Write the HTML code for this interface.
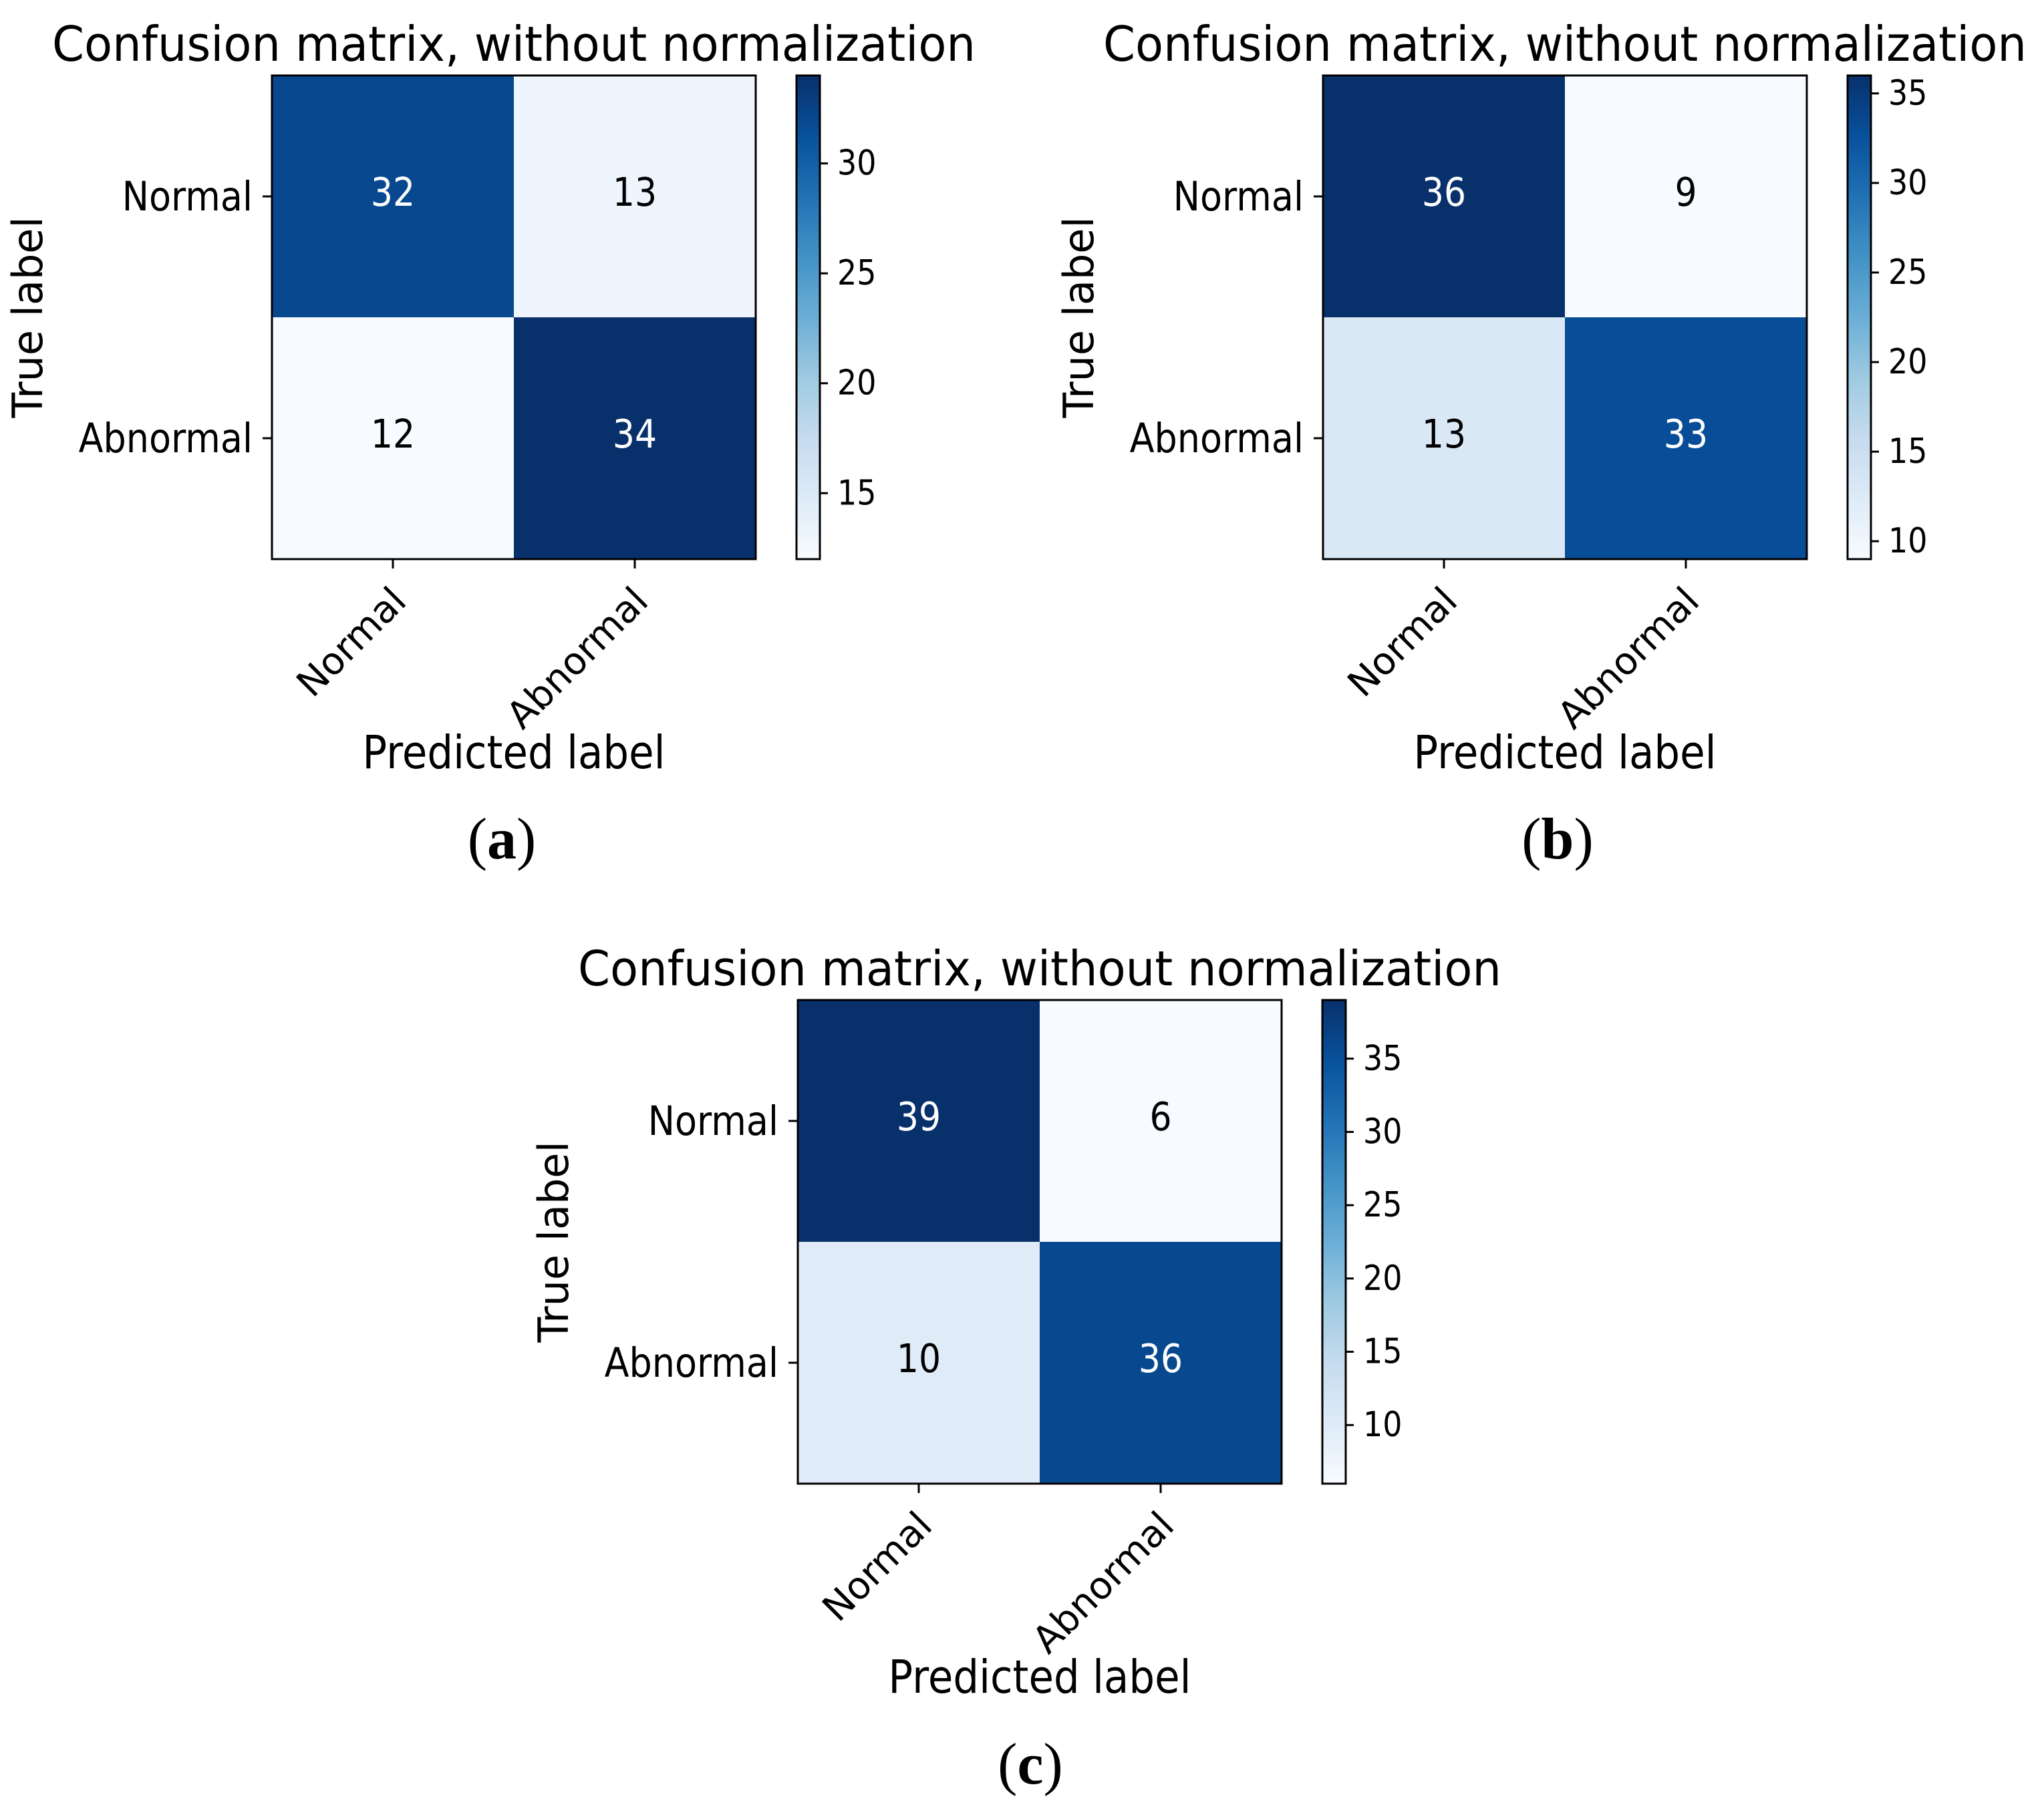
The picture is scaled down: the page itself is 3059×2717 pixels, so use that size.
<!DOCTYPE html>
<html><head><meta charset="utf-8"><style>
html,body{margin:0;padding:0;background:#fff}
svg{display:block}
text{font-family:"DejaVu Sans","Liberation Sans",sans-serif;fill:#000}
.cap{font-family:"Liberation Serif",serif}
</style></head><body>
<svg id="fig" width="3059" height="2717" viewBox="0 0 3059 2717" xmlns="http://www.w3.org/2000/svg"></svg>
<script>
const categories = ["Normal", "Abnormal"];
const matrixA = [[32, 13], [12, 34]];
const matrixB = [[36, 9], [13, 33]];
const matrixC = [[39, 6], [10, 36]];
const colorbarTicks = [5, 10, 15, 20, 25, 30, 35, 40];
const captionLetters = ["a", "b", "c"];
const titleText = "Confusion matrix, without normalization";

const NS = "http://www.w3.org/2000/svg";
const svg = document.getElementById("fig");
const stops = ["#f7fbff","#deebf7","#c6dbef","#9ecae1","#6baed6","#4292c6","#2171b5","#08519c","#08306b"];
const K = 1.13; // vertical glyph stretch seen in reference
function hex(h){return [parseInt(h.slice(1,3),16),parseInt(h.slice(3,5),16),parseInt(h.slice(5,7),16)];}
function blues(t){
  t=Math.max(0,Math.min(1,t)); const p=t*8; const i=Math.min(7,Math.floor(p)); const f=p-i;
  const a=hex(stops[i]), b=hex(stops[i+1]);
  return "rgb("+a.map((v,k)=>Math.round(v+(b[k]-v)*f)).join(",")+")";
}
function mk(tag, attrs, parent){
  const e=document.createElementNS(NS,tag);
  for(const k in attrs) e.setAttribute(k,attrs[k]);
  (parent||svg).appendChild(e); return e;
}
function stext(x,y,attrs,parent){
  attrs.x=0; attrs.y=0; attrs.transform="translate("+x+","+y+") scale(1,"+K+")";
  return mk("text",attrs,parent);
}
const defs=mk("defs",{});
const lg=mk("linearGradient",{id:"bluesGrad",x1:"0",y1:"1",x2:"0",y2:"0"},defs);
stops.forEach((c,i)=>mk("stop",{offset:(i/8).toString(),"stop-color":c},lg));

const S=724;
function panel(m, left, top, letter, capX, capY){
  const g=mk("g",{});
  
  
  const flat=m.flat(); const vmin=Math.min(...flat), vmax=Math.max(...flat);
  const n=categories.length, cs=S/n;
  const xScale=j=>left+cs*(j+0.5), yScale=i=>top+cs*(i+0.5);
  const thresh=vmax/2;
  m.forEach((row,i)=>row.forEach((v,j)=>{
    const r=mk("rect",{x:left+cs*j,y:top+cs*i,width:cs+0.5,height:cs+0.5,fill:blues((v-vmin)/(vmax-vmin))},g);
    
    
    const t=stext(xScale(j),yScale(i)-6+20,{"text-anchor":"middle","font-size":52,style:"fill:"+(v>thresh?"#fff":"#000")},g);
    t.textContent=v;
    
    
  }));
  const fr=mk("rect",{x:left,y:top,width:S,height:S,fill:"none",stroke:"#000","stroke-width":3},g);
  
  
  categories.forEach((c,i)=>{
    mk("line",{x1:left-14,x2:left,y1:yScale(i),y2:yScale(i),stroke:"#000","stroke-width":3},g);
    const t=stext(left-29,yScale(i)+21,{"text-anchor":"end","font-size":54},g);
    t.textContent=c;
    
    
    const xt=xScale(i);
    mk("line",{x1:xt,x2:xt,y1:top+S,y2:top+S+14,stroke:"#000","stroke-width":3},g);
    const bx=xt+23, by=top+S+66;
    const t2=mk("text",{x:bx,y:by,"text-anchor":"end","font-size":56,transform:"rotate(-45 "+bx+" "+by+")"},g);
    t2.textContent=c;
    
    
  });
  const title=stext(left+S/2,top-22,{"text-anchor":"middle","font-size":64,textLength:1382,lengthAdjust:"spacingAndGlyphs"},g);
  title.textContent=titleText;
  
  
  const yl=mk("text",{x:0,y:0,"text-anchor":"middle","font-size":62,transform:"translate("+(left-344)+","+(top+S/2)+") rotate(-90)"},g);
  yl.textContent="True label";
  
  
  const xl=stext(left+S/2,top+S+313,{"text-anchor":"middle","font-size":61},g);
  xl.textContent="Predicted label";
  
  
  const cbx=left+785, cbw=35;
  const cb=mk("rect",{x:cbx,y:top,width:cbw,height:S,fill:"url(#bluesGrad)",stroke:"#000","stroke-width":3},g);
  
  
  const cScale=v=>top+S-(v-vmin)/(vmax-vmin)*S;
  colorbarTicks.filter(v=>v>=vmin&&v<=vmax).forEach(v=>{
    const y=cScale(v);
    mk("line",{x1:cbx+cbw,x2:cbx+cbw+12,y1:y,y2:y,stroke:"#000","stroke-width":3},g);
    const t=stext(cbx+cbw+26,y+17,{"font-size":46},g);
    t.textContent=v;
    
    
  });
  const c=mk("text",{x:capX,y:capY,"text-anchor":"middle","font-size":88,class:"cap"},g);
  
  
  const p1=mk("tspan",{},c); p1.textContent="(";
  const p2=mk("tspan",{"font-weight":"bold"},c); p2.textContent=letter;
  const p3=mk("tspan",{},c); p3.textContent=")";
}
panel(matrixA, 407, 113, captionLetters[0], 751, 1285);
panel(matrixB, 1980, 113, captionLetters[1], 2331, 1285);
panel(matrixC, 1194, 1497, captionLetters[2], 1542, 2670);
</script>
</body></html>
